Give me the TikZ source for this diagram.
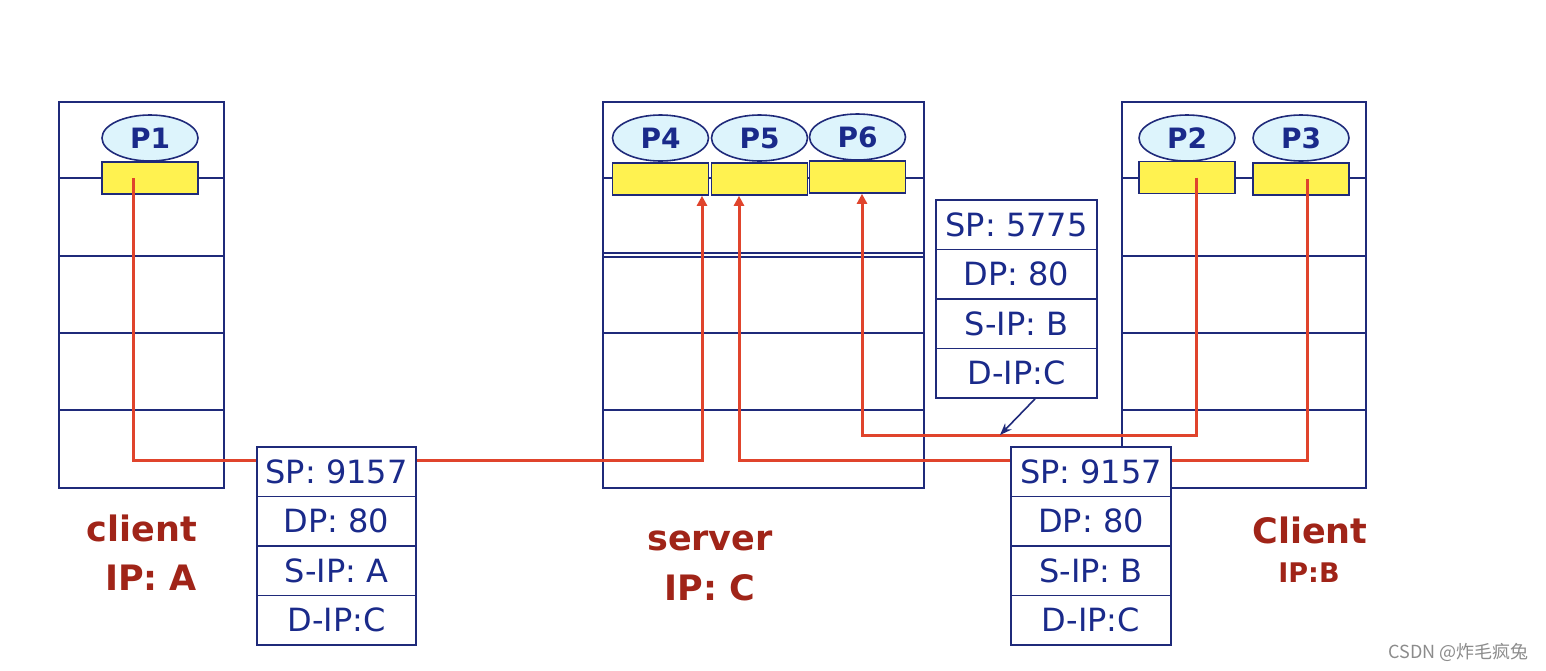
\documentclass[tikz,border=0pt]{standalone}
\usepackage{fontspec}
\setmainfont{DejaVu Sans}
\newfontfamily\cjkfont{Noto Sans CJK SC}
\usetikzlibrary{arrows.meta,shapes.geometric}
\definecolor{navy}{HTML}{1F2A7A}
\definecolor{ink}{HTML}{1A2A8A}
\definecolor{labred}{HTML}{A02418}
\definecolor{wire}{HTML}{E0442C}
\definecolor{procfill}{HTML}{DDF4FC}
\definecolor{sockfill}{HTML}{FFF250}
\begin{document}
\begin{tikzpicture}[x=1pt,y=-1pt,
  host/.style={draw=navy, line width=2pt, anchor=north west, inner sep=0pt},
  hline/.style={draw=navy, line width=1.8pt},
  proc/.style={ellipse, draw=navy, line width=1.6pt, fill=procfill, inner sep=0pt,
    minimum width=96pt, minimum height=46pt, text=ink,
    font=\fontsize{28}{28}\selectfont\bfseries},
  sock/.style={rectangle, draw=navy, line width=1.6pt, fill=sockfill, inner sep=0pt,
    minimum width=96pt, minimum height=32pt},
  cell/.style={rectangle, draw=navy, line width=1.8pt, fill=white, inner sep=0pt,
    minimum height=49.5pt, text=ink, font=\fontsize{32}{32}\selectfont},
  pktL/.style={cell, minimum width=159pt},
  pktM/.style={cell, minimum width=161pt},
  pktR/.style={cell, minimum width=160pt},
  lab/.style={text=labred, font=\fontsize{35}{35}\selectfont\bfseries},
  labsmall/.style={text=labred, font=\fontsize{27}{27}\selectfont\bfseries},
  wireline/.style={draw=wire, line width=3pt},
  wirearrow/.style={wireline, -{Triangle[length=10pt,width=10pt]}},
  tagarrow/.style={draw=navy, line width=1.6pt, -{Stealth[length=12pt,width=9pt]}}
]
\fill[white] (0,0) rectangle (1546,670);
\useasboundingbox (0,0) rectangle (1546,670);

% hosts
\node[host, minimum width=165pt, minimum height=386pt] (hA) at (58,101) {};
\node[host, minimum width=321pt, minimum height=386pt] (hC) at (602,101) {};
\node[host, minimum width=244pt, minimum height=386pt] (hB) at (1121,101) {};

\foreach \yy in {178,256,333,410} \draw[hline] (58,\yy) -- (223,\yy);
\foreach \yy in {178,253,257,333,410} \draw[hline] (602,\yy) -- (923,\yy);
\foreach \yy in {178,256,333,410} \draw[hline] (1121,\yy) -- (1365,\yy);

% processes and sockets
\node[proc] (p1) at (150,138) {P1};
\node[sock] (b1) at (150,178) {};
\node[proc] (p4) at (660.5,138) {P4};
\node[sock] (b4) at (660.5,179) {};
\node[proc] (p5) at (759.5,138) {P5};
\node[sock] (b5) at (759.5,179) {};
\node[proc] (p6) at (857.5,137) {P6};
\node[sock] (b6) at (857.5,177) {};
\node[proc] (p2) at (1187,138) {P2};
\node[sock] (b2) at (1187,177.5) {};
\node[proc] (p3) at (1301,138) {P3};
\node[sock] (b3) at (1301,179) {};

% connector end points
\coordinate (yA) at (0,460);
\coordinate (yB) at (0,435);
\coordinate (out1) at ([xshift=-17pt]b1.center);
\coordinate (out2) at ([xshift=9pt]b2.center);
\coordinate (out3) at ([xshift=6pt]b3.center);
\coordinate (in4) at ([xshift=41.5pt]b4.south);
\coordinate (in5) at ([xshift=-20.5pt]b5.south);
\coordinate (in6) at ([xshift=4.5pt]b6.south);

\draw[wirearrow] (out1) |- (yA -| in4) -- (in4);
\draw[wirearrow] (out3) |- (yA -| in5) -- (in5);
\draw[wirearrow] (out2) |- (yB -| in6) -- (in6);

% packets
\node[pktL] (la1) at (336.5,471.75) {SP: 9157};
\node[pktL] (la2) at (336.5,521.25) {DP: 80};
\node[pktL] (la3) at (336.5,570.75) {S-IP: A};
\node[pktL] (la4) at (336.5,620.25) {D-IP:C};

\node[pktM] (m1) at (1016.5,224.75) {SP: 5775};
\node[pktM] (m2) at (1016.5,274.25) {DP: 80};
\node[pktM] (m3) at (1016.5,323.75) {S-IP: B};
\node[pktM] (m4) at (1016.5,373.25) {D-IP:C};

\node[pktR] (ra1) at (1091,471.75) {SP: 9157};
\node[pktR] (ra2) at (1091,521.25) {DP: 80};
\node[pktR] (ra3) at (1091,570.75) {S-IP: B};
\node[pktR] (ra4) at (1091,620.25) {D-IP:C};

\coordinate (tap) at (1000,435);
\draw[tagarrow] ([xshift=18.5pt]m4.south) -- (tap);

% labels
\node[lab] (lA1) at (142,528) {client};
\node[lab] (lA2) at (151,578) {IP: A};
\node[lab] (lC1) at (710,541) {server};
\node[lab] (lC2) at (710,588) {IP: C};
\node[lab] (lB1) at (1310,530) {Client};
\node[labsmall] (lB2) at (1309,573) {IP:B};

\node[anchor=east, text=black!45, font=\fontsize{18}{18}\selectfont\cjkfont] (wm) at (1532,652) {CSDN @炸毛疯兔};
\end{tikzpicture}
\end{document}
